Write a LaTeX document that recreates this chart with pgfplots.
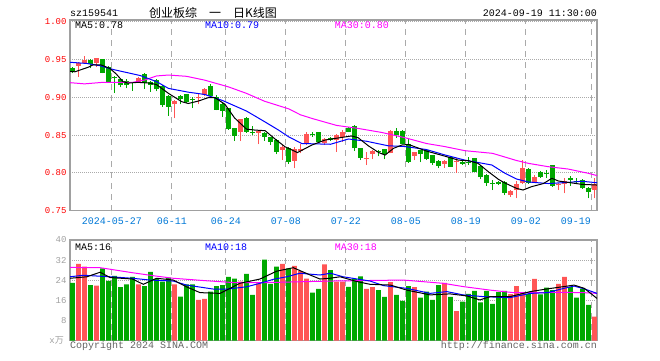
\documentclass[border=0pt]{standalone}
\usepackage{pgfplots}
\pgfplotsset{compat=1.18}
\usepackage{pgfplotstable}
\usepackage{fontspec}
\setmainfont{Liberation Sans}
\setmonofont{Liberation Mono}
\newfontfamily\cjk{Noto Sans CJK SC}
\definecolor{cup}{RGB}{255,85,85}
\definecolor{cdn}{RGB}{0,168,0}
\definecolor{gridc}{RGB}{170,170,170}
\definecolor{framec}{RGB}{160,160,160}
\definecolor{xlab}{RGB}{0,120,215}
\definecolor{ma30}{RGB}{255,0,255}
\definecolor{ma10}{RGB}{0,0,255}
\definecolor{txtgray}{RGB}{100,100,100}
\newcommand{\mf}{\ttfamily\fontsize{10}{12}\selectfont}
\newcommand{\smf}{\ttfamily\fontsize{9}{11}\selectfont}

\pgfplotstableread{
i O H L C
1 0.9417 0.9466 0.9276 0.9461
2 0.9452 0.9554 0.9444 0.9497
4 0.9452 0.9523 0.9408 0.9519
11 0.9210 0.9276 0.9205 0.9254
17 0.8910 0.8960 0.8724 0.8953
21 0.8997 0.9040 0.8910 0.9010
22 0.9030 0.9120 0.9020 0.9110
28 0.8540 0.8720 0.8420 0.8715
31 0.8530 0.8570 0.8380 0.8560
35 0.8305 0.8370 0.8170 0.8348
37 0.8160 0.8340 0.8060 0.8313
38 0.8287 0.8390 0.8260 0.8313
39 0.8380 0.8546 0.8370 0.8520
42 0.8393 0.8460 0.8375 0.8446
44 0.8437 0.8510 0.8280 0.8503
45 0.8470 0.8570 0.8414 0.8546
49 0.8185 0.8273 0.8105 0.8202
50 0.8250 0.8300 0.8180 0.8290
53 0.8270 0.8570 0.8260 0.8560
57 0.8228 0.8280 0.8170 0.8273
62 0.8118 0.8170 0.8066 0.8162
64 0.8149 0.8194 0.8000 0.8162
73 0.7708 0.7780 0.7686 0.7765
74 0.7774 0.7900 0.7664 0.7855
75 0.7863 0.8170 0.7860 0.8060
77 0.7884 0.7970 0.7870 0.7950
81 0.7835 0.7870 0.7774 0.7850
82 0.7850 0.7930 0.7730 0.7893
87 0.7774 0.7930 0.7664 0.7850
}\up

\pgfplotstableread{
i O H L C
0 0.9386 0.9408 0.9320 0.9355
3 0.9497 0.9505 0.9386 0.9444
5 0.9510 0.9515 0.9320 0.9330
6 0.9408 0.9415 0.9200 0.9210
7 0.9276 0.9285 0.9064 0.9262
8 0.9240 0.9250 0.9135 0.9160
9 0.9223 0.9240 0.9120 0.9160
10 0.9205 0.9210 0.9090 0.9192
12 0.9310 0.9320 0.9110 0.9187
13 0.9210 0.9220 0.9077 0.9170
14 0.9232 0.9240 0.9080 0.9108
15 0.9150 0.9160 0.8878 0.8900
16 0.9020 0.9030 0.8760 0.8880
18 0.9020 0.9030 0.8910 0.8980
19 0.9040 0.9050 0.8920 0.8940
20 0.8980 0.9006 0.8860 0.8965
23 0.9150 0.9180 0.9010 0.9020
24 0.9010 0.9030 0.8830 0.8840
25 0.8910 0.8920 0.8745 0.8820
26 0.8856 0.8860 0.8570 0.8580
27 0.8590 0.8600 0.8420 0.8490
29 0.8730 0.8740 0.8530 0.8546
30 0.8546 0.8620 0.8500 0.8530
32 0.8530 0.8540 0.8425 0.8480
33 0.8470 0.8480 0.8370 0.8414
34 0.8440 0.8450 0.8245 0.8280
36 0.8330 0.8340 0.8125 0.8150
40 0.8515 0.8540 0.8480 0.8500
41 0.8538 0.8540 0.8400 0.8406
43 0.8467 0.8470 0.8420 0.8437
46 0.8590 0.8610 0.8540 0.8546
47 0.8620 0.8630 0.8290 0.8326
48 0.8326 0.8330 0.8170 0.8200
51 0.8290 0.8300 0.8220 0.8273
52 0.8317 0.8320 0.8180 0.8247
54 0.8560 0.8590 0.8460 0.8503
55 0.8560 0.8570 0.8380 0.8390
56 0.8390 0.8446 0.8132 0.8150
58 0.8300 0.8310 0.8140 0.8245
59 0.8310 0.8320 0.8170 0.8180
60 0.8238 0.8240 0.8110 0.8128
61 0.8162 0.8170 0.8060 0.8092
63 0.8215 0.8220 0.8080 0.8083
65 0.8150 0.8160 0.8110 0.8120
66 0.8150 0.8215 0.8110 0.8136
67 0.8194 0.8200 0.8010 0.8017
68 0.8090 0.8100 0.7916 0.7942
69 0.7973 0.7980 0.7827 0.7870
70 0.7868 0.7907 0.7774 0.7855
71 0.7880 0.7900 0.7840 0.7860
72 0.7884 0.7890 0.7708 0.7738
76 0.8050 0.8060 0.7860 0.7863
78 0.8017 0.8030 0.7930 0.7940
79 0.7995 0.8040 0.7930 0.7982
80 0.8105 0.8110 0.7820 0.7830
83 0.7937 0.7960 0.7830 0.7907
84 0.7900 0.7930 0.7850 0.7880
85 0.7906 0.7920 0.7790 0.7797
86 0.7805 0.7810 0.7664 0.7752
}\dn

\pgfplotstableread{
i v
1 30.5
2 29.4
4 21.9
11 22.4
17 22.4
21 16.2
22 16.6
28 23.5
31 22.8
35 30.5
37 29.7
38 27.6
39 24.7
42 30.3
44 23.5
45 23.5
49 20.6
50 21.3
53 23.3
57 21.3
62 23.0
64 11.8
73 18.5
74 21.7
75 19.1
77 24.6
81 22.6
82 25.4
87 9.6
}\volup

\pgfplotstableread{
i v
0 23.0
3 22.1
5 28.7
6 23.8
7 25.8
8 21.3
9 22.4
10 25.4
12 21.7
13 27.3
14 24.6
15 23.5
16 25.1
18 17.5
19 22.4
20 22.4
23 19.5
24 21.7
25 22.1
26 25.4
27 24.7
29 26.5
30 18.2
32 32.2
33 22.6
34 29.4
36 28.7
40 19.1
41 20.6
43 28.0
46 21.4
47 24.5
48 25.6
51 20.1
52 17.4
54 18.2
55 15.8
56 21.7
58 17.1
59 19.5
60 16.2
61 22.1
63 17.4
65 15.5
66 18.6
67 19.8
68 15.2
69 19.8
70 14.6
71 19.3
72 19.8
76 18.5
78 18.4
79 21.1
80 20.1
83 21.4
84 17.1
85 20.7
86 14.2
}\voldn

\pgfplotsset{
  kbase/.style={
    scale only axis, width=527pt,
    xmin=-0.42, xmax=87.42,
    axis line style={draw=framec, line width=1.2pt},
    tick style={draw=none},
    xtick={6.58,16.58,25.58,35.58,45.58,55.58,65.58,75.58,86.58},
    xmajorgrids, ymajorgrids,
    x grid style={gridc, line width=1pt, dash pattern=on 5.5pt off 5.5pt},
    y grid style={gridc, line width=1pt, dash pattern=on 1pt off 1pt},
  },
  wick/.style={draw=none, no marks, forget plot,
    error bars/.cd, y dir=plus, y explicit, error mark=none,
    error bar style={line width=1pt, color=#1}},
  body/.style={draw=none, no marks, forget plot,
    error bars/.cd, y dir=plus, y explicit, error mark=none,
    error bar style={line width=4.6pt, color=#1}},
}

\begin{document}
\begin{tikzpicture}
\path[use as bounding box] (0pt,0pt) rectangle (660pt,360pt);

% price panel
\begin{axis}[kbase, at={(70pt,149.3pt)}, anchor=south west, height=190.7pt,
  ymin=0.75, ymax=1.0026,
  ytick={0.75,0.80,0.85,0.90,0.95,1.00},
  yticklabels={0.75,0.80,0.85,0.90,0.95,1.00},
  yticklabel style={font=\smf, text=red},
  xticklabels={2024-05-27,06-11,06-24,07-08,07-22,08-05,08-19,09-02,{}},
  xticklabel style={font=\mf, text=xlab, yshift=-4pt},
  extra x ticks={86.58}, extra x tick labels={09-19},
  extra x tick style={grid=none, xticklabel style={xshift=-16pt}},
]
\addplot[wick=cup] table[x=i, y=L, y error expr=\thisrow{H}-\thisrow{L}] {\up};
\addplot[body=cup] table[x=i, y=O, y error expr=\thisrow{C}-\thisrow{O}] {\up};
\addplot[wick=cdn] table[x=i, y=L, y error expr=\thisrow{H}-\thisrow{L}] {\dn};
\addplot[body=cdn] table[x=i, y=C, y error expr=\thisrow{O}-\thisrow{C}] {\dn};

\addplot[ma30, line width=1pt] coordinates {
(-0.4,0.9196) (2,0.918) (5,0.920) (10,0.920) (12,0.923) (14,0.9285) (16,0.9297)
(19,0.928) (22,0.923) (26,0.914) (29,0.9054) (32,0.895) (36,0.885) (38,0.877)
(40,0.872) (44,0.863) (47.6,0.859) (51.5,0.8537) (55.4,0.8467) (59,0.839)
(62,0.835) (65.4,0.8295) (70,0.826) (74,0.8165) (76,0.8127) (79.3,0.8083)
(82.6,0.8052) (86,0.7995) (87.42,0.7965)};
\addplot[ma10, line width=1pt] coordinates {
(-0.4,0.9466) (2.4,0.945) (4.6,0.942) (6.8,0.937) (11.3,0.929) (14,0.921)
(16,0.912) (19.3,0.907) (22,0.904) (25,0.896) (29,0.882) (32,0.868) (34.3,0.857)
(36,0.848) (38.2,0.839) (43,0.838) (46,0.845) (49,0.842) (52.6,0.836)
(55.4,0.835) (59,0.831) (62,0.824) (65.4,0.817) (69.9,0.8105) (72,0.800)
(74,0.792) (76,0.788) (79.3,0.786) (82.6,0.7875) (84.9,0.789) (87.42,0.787)};
\addplot[black, line width=1pt] coordinates {
(-0.4,0.9345) (0.4,0.934) (1.5,0.937) (2.6,0.940) (3.4,0.943) (4.8,0.943)
(6.2,0.9386) (7.3,0.931) (8.4,0.921) (9.25,0.919) (10.9,0.920) (12.9,0.919)
(14,0.917) (16,0.9054) (18.2,0.8944) (19.3,0.892) (21,0.8953) (22.6,0.8997)
(23.75,0.8997) (25.4,0.891) (27,0.873) (29,0.858) (30.4,0.8568) (32.1,0.856)
(33.75,0.845) (35.4,0.8348) (37.5,0.827) (39.9,0.837) (42.1,0.8436) (44,0.846)
(46.5,0.849) (47.6,0.8467) (49.3,0.836) (51,0.8272) (52.1,0.8237) (53.5,0.8326)
(54.9,0.837) (56,0.8378) (57,0.8348) (59,0.829) (62,0.8224) (64.3,0.817)
(66,0.8162) (67.6,0.8127) (69.3,0.8017) (71,0.7915) (72,0.787) (74,0.7796)
(75.1,0.7774) (76.5,0.7818) (78.5,0.786) (79.9,0.7929) (81,0.7893)
(82.6,0.7875) (84.9,0.7849) (87.42,0.784)};
\end{axis}

% volume panel
\begin{axis}[kbase, at={(70pt,19.3pt)}, anchor=south west, height=100.7pt,
  ymin=0, ymax=40,
  ytick={0,8,16,24,32,40},
  yticklabels={{},8,16,24,32,40},
  yticklabel style={font=\smf, text=framec},
  xticklabels={},
]
\addplot[ybar, bar width=4.6pt, bar shift=0pt, fill=cup, draw=none, forget plot] table[x=i, y=v] {\volup};
\addplot[ybar, bar width=4.6pt, bar shift=0pt, fill=cdn, draw=none, forget plot] table[x=i, y=v] {\voldn};
\addplot[ma30, line width=1pt] coordinates {
(-0.4,29.1) (4.6,29.0) (6.25,28.4) (10,27.0) (13.5,25.8) (16.8,24.8) (22.4,23.8)
(26.8,23.1) (32.4,23.1) (43,23.7) (55.1,24.1) (61.8,22.8) (65.1,21.5) (69.6,20.1)
(73.5,19.1) (77.4,19.1) (81.9,19.2) (85.1,19.1) (87.42,18.8)};
\addplot[ma10, line width=1pt] coordinates {
(-0.4,25.4) (1.8,26.0) (6.25,25.4) (10,24.8) (12.9,24.1) (16.8,23.7) (19,22.1)
(23.5,20.5) (25.7,20.5) (29,21.4) (31.25,22.8) (33.5,24.4) (35.7,25.4) (37.9,26.8)
(41.25,26.1) (43,26.8) (45.1,25.4) (49.6,23.7) (51.8,21.9) (55.7,20.8) (59.6,18.8)
(62.4,19.5) (65.1,18.2) (68.5,17.5) (72.9,17.1) (76.3,18.8) (79.2,19.1) (81.9,20.8)
(83.6,21.7) (85.3,20.6) (87.42,18.8)};
\addplot[black, line width=1pt] coordinates {
(-0.4,24.8) (2.4,25.4) (4.6,27.2) (6.25,25.1) (10,24.5) (11.8,22.4) (14,24.8)
(16.8,24.1) (19,21.4) (21.25,19.1) (24.6,18.8) (27.9,22.8) (31.25,24.5) (34,27.6)
(36.8,29.0) (39.6,26.1) (41.25,24.5) (42.9,24.8) (44.6,25.4) (47.4,23.5) (49.6,22.4)
(53,22.1) (55.7,20.1) (59.6,18.2) (62.9,18.6) (65.7,17.8) (67.9,16.2) (69.6,17.5)
(72.9,17.5) (76.3,19.5) (79.2,20.6) (81.9,21.5) (83.6,22.1) (85.3,20.8) (87.42,16.8)};
\end{axis}

% texts
\node[anchor=west, inner sep=0pt, font=\mf] at (70pt,347pt) {sz159541};
\node[inner sep=0pt, font=\cjk\fontsize{12}{14}\selectfont] at (213pt,347.2pt) {创业板综\hspace{12pt}一\hspace{12pt}日K线图};
\node[anchor=east, inner sep=0pt, font=\mf] at (597pt,347pt) {2024-09-19 11:30:00};

\node[anchor=west, inner sep=0pt, font=\mf, text=black] at (75pt,334.5pt) {MA5:0.78};
\node[anchor=west, inner sep=0pt, font=\mf, text=ma10] at (205pt,334.5pt) {MA10:0.79};
\node[anchor=west, inner sep=0pt, font=\mf, text=ma30] at (334.7pt,334.5pt) {MA30:0.80};

\node[anchor=west, inner sep=0pt, font=\mf, text=black] at (75pt,113pt) {MA5:16};
\node[anchor=west, inner sep=0pt, font=\mf, text=ma10] at (205pt,113pt) {MA10:18};
\node[anchor=west, inner sep=0pt, font=\mf, text=ma30] at (334.7pt,113pt) {MA30:18};

\node[anchor=east, inner sep=0pt, font=\smf, text=framec] at (64pt,19.3pt) {x{\cjk 万}};
\node[anchor=west, inner sep=0pt, font=\mf, text=txtgray] at (70pt,14.2pt) {Copyright 2024 SINA.COM};
\node[anchor=east, inner sep=0pt, font=\mf, text=txtgray] at (597pt,14.2pt) {http://finance.sina.com.cn};
\end{tikzpicture}
\end{document}
